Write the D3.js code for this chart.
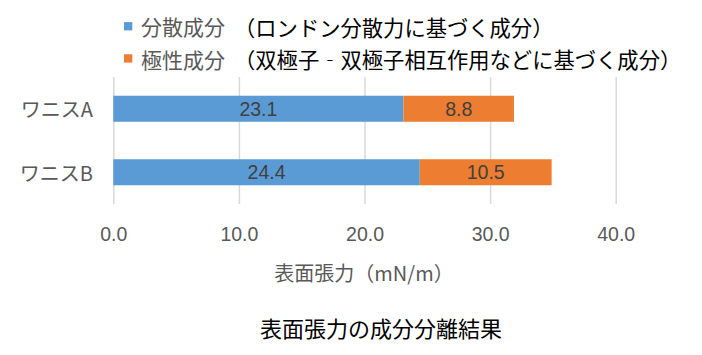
<!DOCTYPE html>
<html><head><meta charset="utf-8">
<script src="https://cdn.jsdelivr.net/npm/d3@7"></script>
<style>
html,body{margin:0;padding:0;background:#fff;}
svg{display:block;}
</style></head>
<body>
<script>
const categories = ["ワニスA", "ワニスB"];
const dispersion = [23.1, 24.4];
const polar = [8.8, 10.5];
const xTicks = [0, 10, 20, 30, 40];
const seriesNames = ["分散成分", "極性成分"];
const seriesNotes = ["（ロンドン分散力に基づく成分）", "（双極子‐双極子相互作用などに基づく成分）"];
const xTitle = "表面張力（mN/m）";
const chartTitle = "表面張力の成分分離結果";

const W = 702, H = 355;
const colors = ["#5B9BD5", "#ED7D31"];
const cjk = "'Noto Sans CJK JP', sans-serif";
const num = "'Liberation Sans', Arial, sans-serif";

const svg = d3.select("body").append("svg").attr("width", W).attr("height", H);

const x = d3.scaleLinear().domain([0, 40]).range([113.3, 615.7]);
const y = d3.scaleBand().domain(categories).range([77, 204]).paddingInner(0.59).paddingOuter(0.295);

// gridlines
const grid = svg.append("g").attr("transform", "translate(0,204)")
  .call(d3.axisBottom(x).tickValues(xTicks).tickSize(-(204 - 77)).tickFormat(""));
grid.select(".domain").remove();
grid.selectAll("line").attr("stroke", "#D9D9D9").attr("stroke-width", 1.5);

// tick labels
const ax = svg.append("g").attr("transform", "translate(0,204)")
  .call(d3.axisBottom(x).tickValues(xTicks).tickSize(0).tickPadding(0).tickFormat(d3.format(".1f")));
ax.select(".domain").remove();
ax.selectAll("text").attr("y", 36.5).attr("dy", 0)
  .attr("fill", "#595959").style("font-family", num).style("font-size", "19.5px");

// stacked data
const stackData = categories.map((c, i) => ({cat: c, d: dispersion[i], p: polar[i]}));
const stack = d3.stack().keys(["d", "p"])(stackData);

stack.forEach((layer, li) => {
  const g = svg.append("g");
  g.selectAll("rect").data(layer).join("rect")
    .attr("x", d => x(d[0]))
    .attr("width", d => x(d[1]) - x(d[0]))
    .attr("y", d => y(d.data.cat))
    .attr("height", y.bandwidth())
    .attr("fill", colors[li]);
  g.selectAll("text").data(layer).join("text")
    .attr("x", d => (x(d[0]) + x(d[1])) / 2)
    .attr("y", d => y(d.data.cat) + y.bandwidth() / 2 + 7)
    .attr("text-anchor", "middle")
    .attr("fill", "#404040")
    .style("font-family", num).style("font-size", "19.5px")
    .text(d => (d[1] - d[0]).toFixed(1));
});

// category labels
svg.append("g").selectAll("text").data(categories).join("text")
  .attr("x", 93)
  .attr("y", d => y(d) + y.bandwidth() / 2)
  .attr("text-anchor", "end")
  .attr("dominant-baseline", "central")
  .attr("fill", "#595959")
  .style("font-family", cjk).style("font-size", "20px")
  .text(d => d);

// legend
const legendY = [26.3, 58.5];
const lg = svg.append("g");
seriesNames.forEach((n, i) => {
  lg.append("rect").attr("x", 124).attr("y", legendY[i] - 4.2).attr("width", 8.3).attr("height", 8.3).attr("fill", colors[i]);
  lg.append("text").attr("x", 141).attr("y", legendY[i])
    .attr("dominant-baseline", "central")
    .attr("fill", "#595959")
    .style("font-family", cjk).style("font-size", "21px")
    .text(n);
  lg.append("text").attr("x", 234).attr("y", legendY[i])
    .attr("dominant-baseline", "central")
    .attr("fill", "#000")
    .style("font-family", cjk).style("font-size", "21.3px")
    .text(seriesNotes[i]);
});

// axis title
svg.append("text").attr("x", 364).attr("y", 272)
  .attr("text-anchor", "middle").attr("dominant-baseline", "central")
  .attr("fill", "#595959")
  .style("font-family", cjk).style("font-size", "20px")
  .text(xTitle);

// chart title
svg.append("text").attr("x", 381).attr("y", 327)
  .attr("text-anchor", "middle").attr("dominant-baseline", "central")
  .attr("fill", "#000")
  .style("font-family", cjk).style("font-size", "22px")
  .text(chartTitle);
</script>
</body></html>
